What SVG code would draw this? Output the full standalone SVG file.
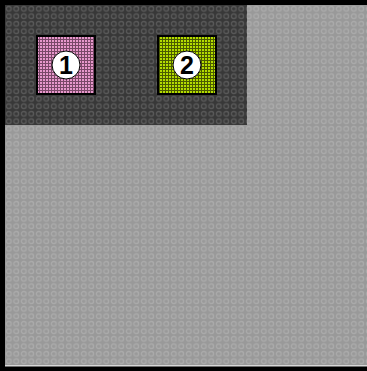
<svg xmlns="http://www.w3.org/2000/svg" width="367" height="371" viewBox="0 0 367 371">
<defs>
<pattern id="ringsLight" x="5" y="5" width="7.5" height="7.5" patternUnits="userSpaceOnUse">
<rect width="7.5" height="7.5" fill="#999999"/>
<circle cx="3.75" cy="3.75" r="2.4" fill="none" stroke="#ababab" stroke-width="1.3"/>
</pattern>
<pattern id="ringsDark" x="5" y="5" width="7.5" height="7.5" patternUnits="userSpaceOnUse">
<rect width="7.5" height="7.5" fill="#383838"/>
<circle cx="3.75" cy="3.75" r="2.4" fill="none" stroke="#5a5a5a" stroke-width="1.3"/>
</pattern>
<pattern id="pinkGrid" width="3" height="3" patternUnits="userSpaceOnUse">
<rect width="3" height="3" fill="#e898cc"/>
<rect width="3" height="1" fill="#7a4868"/>
<rect width="1" height="3" fill="#7a4868"/>
</pattern>
<pattern id="greenGrid" width="3" height="3" patternUnits="userSpaceOnUse">
<rect width="3" height="3" fill="#b4dc00"/>
<rect width="3" height="1" fill="#4a5a00"/>
<rect width="1" height="3" fill="#4a5a00"/>
</pattern>
<style>
.node rect{stroke:#000;stroke-width:2}
.badge{fill:#fff;stroke:#000;stroke-width:1}
.num{font-family:"Liberation Sans",Arial,sans-serif;font-weight:bold;font-size:25px;fill:#000;text-anchor:middle}
</style>
</defs>
<rect width="367" height="371" fill="#000"/>
<rect x="5" y="5" width="362" height="361" fill="url(#ringsLight)"/>
<rect x="5" y="365" width="362" height="1.5" fill="#d8d8d8"/>
<rect x="5" y="5" width="242" height="120" fill="url(#ringsDark)"/>
<g id="connectors"></g>
<g id="node1" class="node">
<rect x="37" y="36" width="58" height="58" fill="url(#pinkGrid)"/>
<circle class="badge" cx="66" cy="65" r="14"/>
<text class="num" x="66" y="74">1</text>
</g>
<g id="node2" class="node">
<rect x="158" y="36" width="58" height="58" fill="url(#greenGrid)"/>
<circle class="badge" cx="187" cy="65" r="14"/>
<text class="num" x="187" y="74">2</text>
</g>
</svg>
